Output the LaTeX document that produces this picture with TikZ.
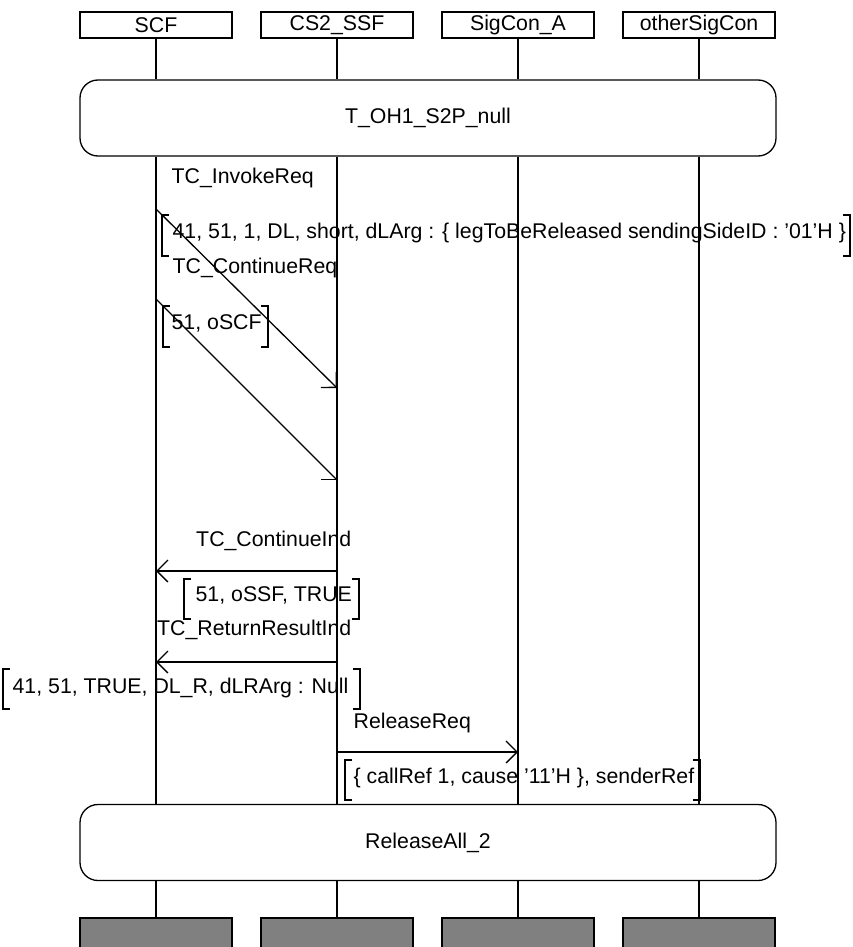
\documentclass[tikz,border=0pt]{standalone}
\usepackage{fontspec}
\setmainfont{Liberation Sans}
\usetikzlibrary{arrows.meta}
\begin{document}
\begin{tikzpicture}[x=1pt,y=-1pt,line width=1.3pt,
  txt/.style={font=\fontsize{21.3}{24}\selectfont, inner sep=0pt},
  hdr/.style={draw, txt, minimum width=152pt, minimum height=26pt},
  cond/.style={draw, txt, rounded corners=18pt, minimum width=696pt, minimum height=76pt},
  endbox/.style={draw, fill=black!50, minimum width=152pt, minimum height=40pt, inner sep=0pt},
  msg/.style={-{Straight Barb[length=11pt,width=22pt]}},
  lab/.style={txt, anchor=base west},
  labr/.style={txt, anchor=base east},
  brk/.style={line width=1.3pt},
]
\useasboundingbox (0,0) rectangle (853,947);
% headers
\node[hdr] (h1) at (156,25) {SCF};
\node[hdr] (h2) at (337,25) {CS2\_SSF};
\node[hdr] (h3) at (518,25) {SigCon\_A};
\node[hdr] (h4) at (699,25) {otherSigCon};
% conditions
\node[cond] (c1) at (428,118) {T\_OH1\_S2P\_null};
\node[cond] (c2) at (428,842.5) {ReleaseAll\_2};
% end boxes
\node[endbox] (e1) at (156,938) {};
\node[endbox] (e2) at (337,938) {};
\node[endbox] (e3) at (518,938) {};
\node[endbox] (e4) at (699,938) {};
% lifelines
\foreach \i in {1,2,3,4}{
  \draw (h\i.south) -- (h\i.south |- c1.north);
  \draw (h\i.south |- c1.south) -- (h\i.south |- c2.north);
  \draw (h\i.south |- c2.south) -- (e\i.north);
}
% message coordinates
\coordinate (m1s) at (156,209);
\coordinate (m1e) at (337,388);
\coordinate (m2s) at (156,299);
\coordinate (m2e) at (337,480);
\coordinate (m3s) at (337,571);
\coordinate (m3e) at (156,571);
\coordinate (m4s) at (337,662);
\coordinate (m4e) at (156,662);
\coordinate (m5s) at (337,752);
\coordinate (m5e) at (518,752);
% messages
\draw[msg] (m1s) -- (m1e);
\draw[msg] (m2s) -- (m2e);
\draw[msg] (m3s) -- (m3e);
\draw[msg] (m4s) -- (m4e);
\draw[msg] (m5s) -- (m5e);
% labels
\node[lab] (l1) at (171,183) {TC\_InvokeReq};
\node[lab] (p1) at (172,238) {41, 51, 1, DL, short, dLArg : \{ legToBeReleased sendingSideID : ’01’H \}};
\node[lab] (l2) at (172,273) {TC\_ContinueReq};
\node[lab] (p2) at (171,329) {51, oSCF};
\node[labr] (l3) at (352,546) {TC\_ContinueInd};
\node[lab] (p3) at (195,601) {51, oSSF, TRUE};
\node[labr] (l4) at (352,635) {TC\_ReturnResultInd};
\node[lab] (p4) at (12,693) {41, 51, TRUE, DL\_R, dLRArg : Null};
\node[lab] (l5) at (353,728) {ReleaseReq};
\node[lab] (p5) at (353,783) {\{ callRef 1, cause ’11’H \}, senderRef};
% brackets
\foreach \l/\r/\t/\b in {162/850/215/256, 163/268/306/347, 184/359/579/619, 3/360/669/709, 345/700/760/800}{
  \draw[brk] (\l+7,\t) -| (\l,\b) -- (\l+7,\b);
  \draw[brk] (\r-7,\t) -| (\r,\b) -- (\r-7,\b);
}
\end{tikzpicture}
\end{document}
